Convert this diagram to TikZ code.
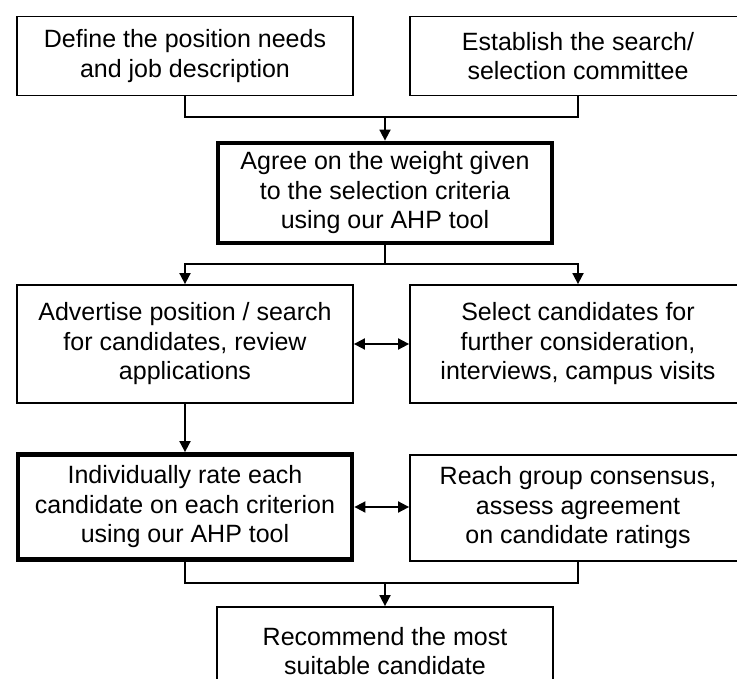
\documentclass[tikz,border=0pt]{standalone}
\usepackage{fontspec}
\setmainfont{Liberation Sans}
\usetikzlibrary{arrows.meta}
\begin{document}
\begin{tikzpicture}[x=1pt, y=1pt, font=\fontsize{25}{29.5}\selectfont, line join=miter, >={Triangle[width=11pt,length=11pt]},
	box/.style={draw, line width=1.8pt, align=center, inner sep=0pt, minimum width=336pt},
	keybox/.style={box, line width=4.8pt, minimum width=334pt}]
			\clip (0,0) rectangle (737,-679);
			\node[box, minimum height=79pt] (A) at (185,-56) {Define the position needs\\and job description};
			\node[box, minimum height=79pt] (B) at (578,-56) {Establish the search/\\selection committee};
			\node[keybox, minimum height=100pt] (C) at (385,-193) {Agree on the weight given\\to the selection criteria\\using our AHP tool};
			\node[box, minimum height=118pt] (D) at (185,-344) {Advertise position / search\\for candidates, review\\applications};
			\node[box, minimum height=118pt] (E) at (578,-344) {Select candidates for\\further consideration,\\interviews, campus visits};
			\node[keybox, minimum height=105pt] (F) at (185,-507) {Individually rate each\\candidate on each criterion\\using our AHP tool};
			\node[box, minimum height=106pt] (G) at (578,-508) {Reach group consensus,\\assess agreement\\on candidate ratings};
			\node[box, minimum height=88pt] (H) at (385,-651) {Recommend the most\\suitable candidate};
			\coordinate (J1) at (385,-117);
			\coordinate (J2) at (385,-264);
			\coordinate (J3) at (385,-583);
			\begin{scope}[line width=1.8pt]
			\draw (A.south) |- (J1) -| (B.south);
			\draw[->] (J1)--(C.north);
			\draw (C.south)--(J2);
			\foreach \x in{D,E} \draw[->] (J2) -| (\x.north);
			\draw[<->] (D.east)--(E.west);
			\draw[->] (D.south)--(F.north);
			\draw[<->] (F.east)--(G.west|-F.east);
			\draw (F.south) |- (J3) -| (G.south);
			\draw[->] (J3)--(H.north);
			\end{scope}
			\end{tikzpicture}
\end{document}
